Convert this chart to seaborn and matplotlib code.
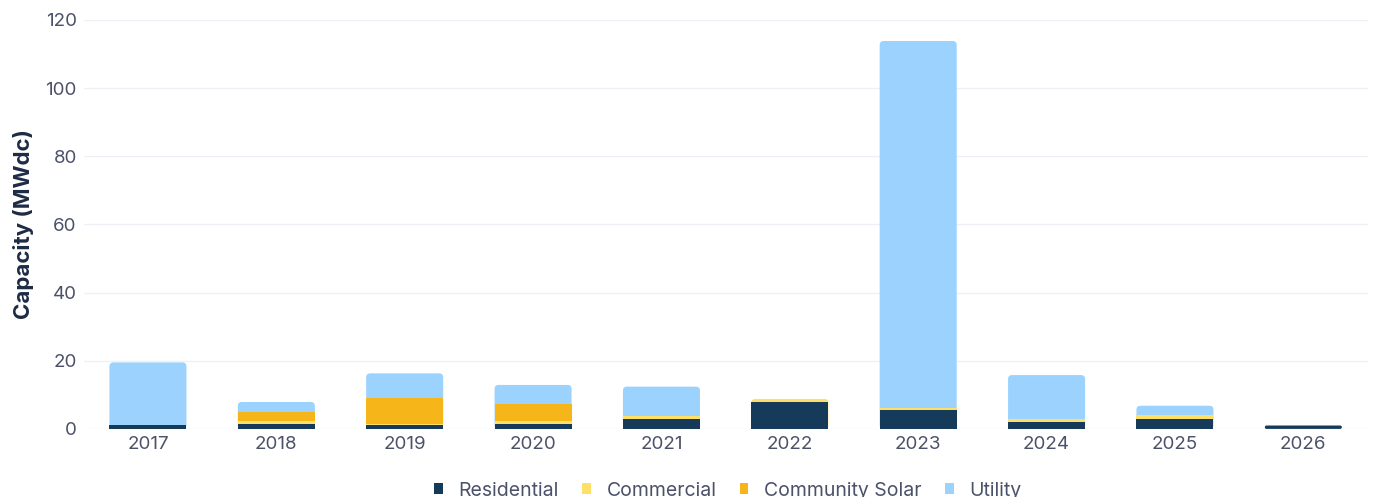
"""Annual solar capacity additions by segment, stacked bars."""

import matplotlib.pyplot as plt
import pandas as pd
import seaborn as sns
from matplotlib.patches import FancyBboxPatch, Patch

years = ["2017", "2018", "2019", "2020", "2021", "2022", "2023", "2024", "2025", "2026"]
residential = [1.2, 1.5, 1.2, 1.3, 2.9, 8.0, 5.5, 2.1, 3.0, 1.0]
commercial = [0.0, 0.8, 0.3, 0.9, 0.8, 0.8, 0.7, 0.7, 1.1, 0.0]
community_solar = [0.0, 2.7, 7.7, 5.0, 0.0, 0.0, 0.0, 0.0, 0.0, 0.0]
utility = [18.3, 2.9, 7.1, 5.7, 8.7, 0.0, 107.6, 13.0, 2.7, 0.0]

segments = ["Residential", "Commercial", "Community Solar", "Utility"]
colors = {
    "Residential": "#163a5a",
    "Commercial": "#ffe066",
    "Community Solar": "#f6b519",
    "Utility": "#9bd3fe",
}

TEXT = "#4b5169"


def round_tops(ax, totals, px_per_x, px_per_y, radius_px=4):
    # swap the full-height segment of each bar for a rounded box underneath the rest
    top = {}
    for p in list(ax.patches):
        i = int(round(p.get_x() + p.get_width() / 2))
        if p.get_height() > 0 and abs(p.get_height() - totals[i]) < 1e-6:
            top[i] = p  # last drawn wins, that's the visible colour
            p.set_visible(False)
    aspect = px_per_x / px_per_y
    for i, p in top.items():
        r_px = min(radius_px, p.get_height() * px_per_y / 2)
        box = FancyBboxPatch(
            (p.get_x(), p.get_y()), p.get_width(), p.get_height(),
            boxstyle=f"round,pad=0,rounding_size={r_px / px_per_x}",
            mutation_aspect=aspect, facecolor=p.get_facecolor(),
            edgecolor="none", zorder=0.9,
        )
        ax.add_patch(box)


def main():
    df = pd.DataFrame(
        {
            "year": years,
            "Residential": residential,
            "Commercial": commercial,
            "Community Solar": community_solar,
            "Utility": utility,
        }
    )

    # cumulative heights, drawn from the tallest layer down so they stack
    cum = df[segments].cumsum(axis=1)
    totals = cum["Utility"].tolist()

    sns.set_style("white")
    plt.rcParams["font.family"] = ["Inter", "DejaVu Sans"]

    fig = plt.figure(figsize=(13.73, 4.97), dpi=100)
    ax = fig.add_axes([0.061, 0.137, 0.935, 0.823])

    for seg in reversed(segments):
        sns.barplot(
            x=df["year"], y=cum[seg], color=colors[seg], width=0.6,
            saturation=1, ax=ax, linewidth=0,
        )

    ax.set_xlim(-0.5, 9.5)
    ax.set_ylim(0, 120)
    ax.set_yticks(range(0, 121, 20))

    bbox = ax.get_position()
    px_per_x = bbox.width * 1373 / 10
    px_per_y = bbox.height * 497 / 120
    round_tops(ax, totals, px_per_x, px_per_y)

    ax.yaxis.grid(True, color="#eef0f5", linewidth=1, zorder=0.5)
    ax.set_axisbelow(True)
    sns.despine(ax=ax, left=True, bottom=True)

    ax.set_xlabel("")
    ax.set_ylabel("Capacity (MWdc)", fontsize=16, fontweight="bold", color="#1e2b45", labelpad=8)
    ax.tick_params(axis="both", length=0, labelsize=13.5, labelcolor=TEXT)
    ax.tick_params(axis="x", pad=5)
    ax.tick_params(axis="y", pad=5)

    handles = [Patch(facecolor=colors[s], edgecolor="none", label=s) for s in segments]
    fig.legend(
        handles=handles, loc="center", bbox_to_anchor=(0.53, 0.013), ncol=4,
        frameon=False, fontsize=14, handlelength=0.45, handleheight=0.45,
        handletextpad=0.8, columnspacing=1.2, labelcolor=TEXT,
    )

    fig.savefig("out.png", dpi=100)
    plt.close(fig)


if __name__ == "__main__":
    main()
